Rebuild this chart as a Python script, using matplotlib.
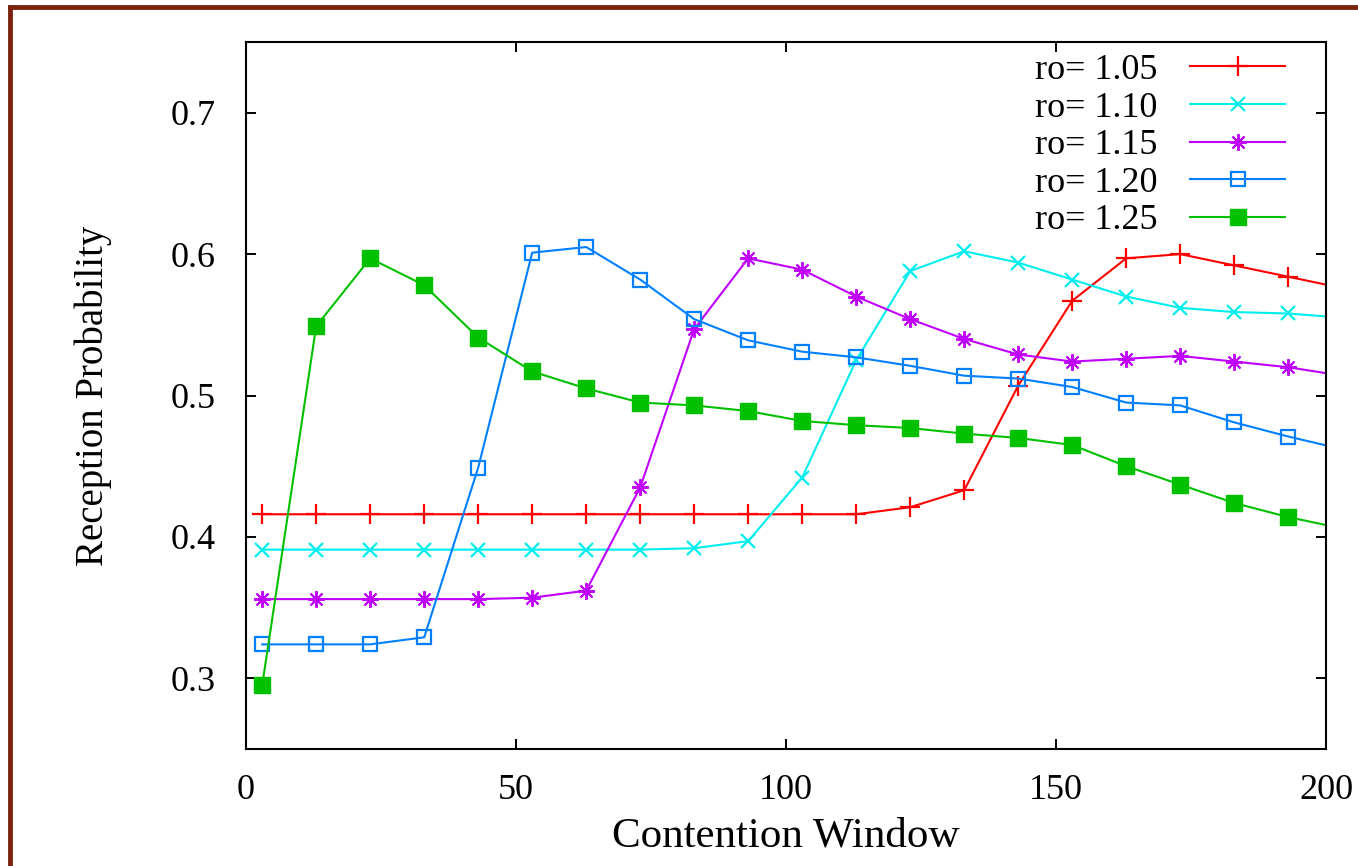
import numpy as np
import matplotlib.pyplot as plt
from matplotlib.lines import Line2D

# contention window values (last point sits just past the axis edge)
cw = [3, 13, 23, 33, 43, 53, 63, 73, 83, 93, 103, 113, 123, 133, 143,
      153, 163, 173, 183, 193, 203]

ro_105 = [0.416, 0.416, 0.416, 0.416, 0.416, 0.416, 0.416, 0.416, 0.416, 0.416, 0.416,
          0.416, 0.421, 0.433, 0.507, 0.567, 0.597, 0.600, 0.592, 0.584, 0.576]
ro_110 = [0.391, 0.391, 0.391, 0.391, 0.391, 0.391, 0.391, 0.391, 0.392, 0.397, 0.442,
          0.525, 0.588, 0.602, 0.594, 0.582, 0.570, 0.562, 0.559, 0.558, 0.555]
ro_115 = [0.356, 0.356, 0.356, 0.356, 0.356, 0.357, 0.362, 0.435, 0.547, 0.597, 0.589,
          0.570, 0.554, 0.540, 0.529, 0.524, 0.526, 0.528, 0.524, 0.520, 0.514]
ro_120 = [0.324, 0.324, 0.324, 0.329, 0.449, 0.601, 0.605, 0.582, 0.554, 0.539, 0.531,
          0.527, 0.521, 0.514, 0.512, 0.506, 0.495, 0.493, 0.481, 0.471, 0.462]
ro_125 = [0.295, 0.549, 0.597, 0.578, 0.541, 0.517, 0.505, 0.495, 0.493, 0.489, 0.482,
          0.479, 0.477, 0.473, 0.470, 0.465, 0.450, 0.437, 0.424, 0.414, 0.406]

labels = ["ro= 1.05", "ro= 1.10", "ro= 1.15", "ro= 1.20", "ro= 1.25"]
series = [ro_105, ro_110, ro_115, ro_120, ro_125]

plt.rcParams['font.family'] = ['Liberation Serif', 'DejaVu Serif']
FS = 26      # tick and legend text

fig = plt.figure(figsize=(13.58, 8.66), dpi=100)
W, H = 1358, 866
ax = fig.add_axes([246 / W, 1 - 749 / H, (1326 - 246) / W, (749 - 42) / H])

styles = [
    dict(color='#ff0000', marker='+', ms=14, mew=1.6),
    dict(color='#00eeee', marker='x', ms=10, mew=1.6),
    dict(color='#c000ff', marker=(8, 2, 0), ms=12, mew=1.4),
    dict(color='#0080ff', marker='s', ms=10, mew=1.6, mfc='none'),
    dict(color='#00c000', marker='s', ms=11, mew=1.0),
]

for ys, lab, st in zip(series, labels, styles):
    ax.plot(cw, ys, lw=1.5, label=lab, **st)

ax.set_xlim(0, 200)
ax.set_ylim(0.25, 0.75)
ax.set_xticks([0, 50, 100, 150, 200])
ax.set_yticks([0.3, 0.4, 0.5, 0.6, 0.7])
ax.set_yticklabels(["0.3", "0.4", "0.5", "0.6", "0.7"])
ax.tick_params(direction='in', length=7, width=1.4, top=True, right=True,
               labelsize=FS, pad=18)
ax.tick_params(axis='y', pad=22)
for sp in ax.spines.values():
    sp.set_linewidth(1.5)

ax.set_xlabel("Contention Window", fontsize=31)
ax.set_ylabel("Reception Probability", fontsize=28)
ax.xaxis.set_label_coords(0.5, (749 - 817) / 707)
ax.yaxis.set_label_coords((112 - 246) / 1080, 0.5)

leg = ax.legend(loc='upper right', bbox_to_anchor=(1307 / W, 1 - 32 / H),
                bbox_transform=fig.transFigure, frameon=False, markerfirst=False,
                fontsize=FS, handlelength=2.64, labelspacing=0.12, handletextpad=0.9,
                borderpad=0.1)

# dark red frame around the picture (top and left edges visible)
bc = '#7a2410'
fig.add_artist(Line2D([10 / W, 1.0], [1 - 7 / H, 1 - 7 / H], color=bc, lw=3.5,
                      transform=fig.transFigure))
fig.add_artist(Line2D([10 / W, 10 / W], [1 - 7 / H, 0.0], color=bc, lw=3.5,
                      transform=fig.transFigure))

fig.savefig("out.png", dpi=100)
